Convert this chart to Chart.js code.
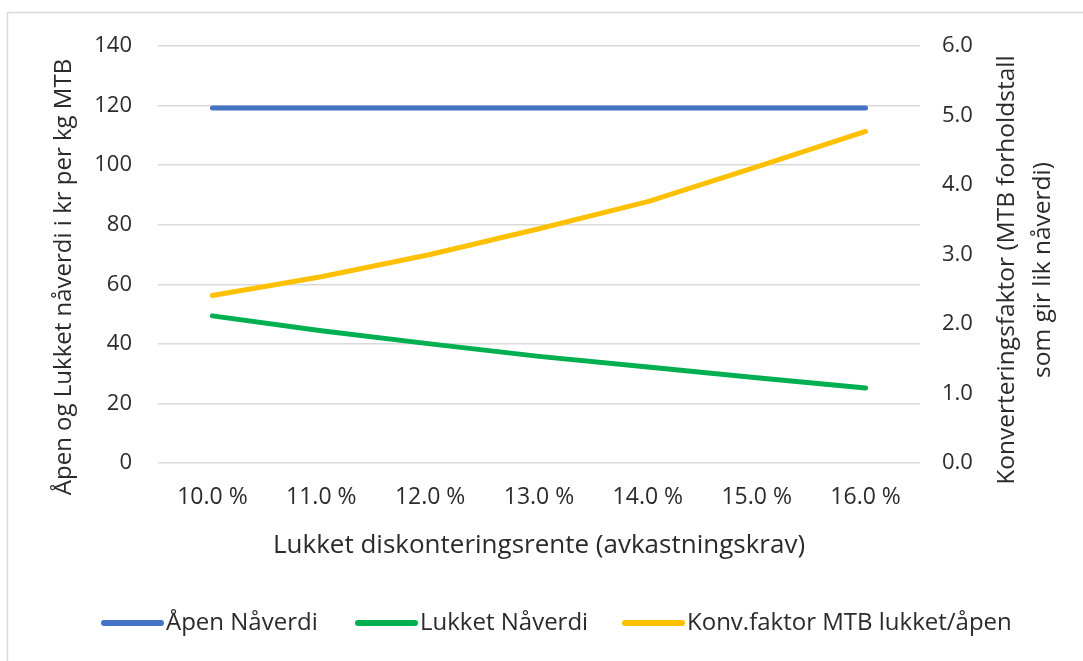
<!DOCTYPE html>
<html lang="no">
<head>
<meta charset="utf-8">
<title>Nåverdi og konverteringsfaktor</title>
<script src="https://cdn.jsdelivr.net/npm/chart.js@4/dist/chart.umd.min.js"></script>
<style>
  html, body { margin: 0; padding: 0; background: #ffffff; }
  #wrap { position: relative; width: 1083px; height: 661px; }
</style>
</head>
<body>
<div id="wrap"><canvas id="navChart" width="1083" height="661"></canvas></div>
<script>
// Diskonteringsrente (x-akse)
const renter = ["10.0 %", "11.0 %", "12.0 %", "13.0 %", "14.0 %", "15.0 %", "16.0 %"];
// Nåverdi i kr per kg MTB
const apenNaverdi = [119.2, 119.2, 119.2, 119.2, 119.2, 119.2, 119.2];
const lukketNaverdi = [49.4, 44.4, 40.0, 35.8, 32.2, 28.6, 25.2];
// Konverteringsfaktor (høyre akse)
const konvFaktor = [2.41, 2.68, 3.00, 3.37, 3.76, 4.26, 4.77];

const serieNavn = ["Åpen Nåverdi", "Lukket Nåverdi", "Konv.faktor MTB lukket/åpen"];
const venstreTittel = "Åpen og Lukket nåverdi i kr per kg MTB";
const hoyreTittel = ["Konverteringsfaktor (MTB forholdstall", "som gir lik nåverdi)"];
const xTittel = "Lukket diskonteringsrente (avkastningskrav)";

const FONT = "'Open Sans', Lato, sans-serif";
const TEKST = "#2b2b2b";
const farger = ["#4472C4", "#00B050", "#FFC000"];

// Aksetitler, legende og ramme tegnes her
const ekstraTegning = {
    id: "ekstraTegning",
    afterDraw(chart) {
        const ctx = chart.ctx;
        ctx.save();

        // tynn ramme rundt diagrammet
        ctx.strokeStyle = "#d9d9d9";
        ctx.lineWidth = 1.5;
        ctx.strokeRect(7.5, 12.5, 1100, 700);

        ctx.fillStyle = TEKST;
        ctx.textAlign = "center";
        ctx.textBaseline = "middle";

        // venstre aksetittel
        ctx.font = "24px " + FONT;
        ctx.save();
        ctx.translate(64, 277);
        ctx.rotate(-Math.PI / 2);
        ctx.fillText(venstreTittel, 0, 0);
        ctx.restore();

        // høyre aksetittel, to linjer
        ctx.font = "24.5px " + FONT;
        ctx.save();
        ctx.translate(1007, 270);
        ctx.rotate(-Math.PI / 2);
        ctx.fillText(hoyreTittel[0], 0, 0);
        ctx.fillText(hoyreTittel[1], 0, 36);
        ctx.restore();

        // legende under diagrammet
        const legX = [101, 355, 622];
        const legY = 623;
        ctx.textAlign = "left";
        ctx.font = "24px " + FONT;
        ctx.lineCap = "round";
        ctx.lineWidth = 6;
        serieNavn.forEach((navn, i) => {
            ctx.strokeStyle = farger[i];
            ctx.beginPath();
            ctx.moveTo(legX[i] + 3, legY);
            ctx.lineTo(legX[i] + 60, legY);
            ctx.stroke();
            ctx.fillText(navn, legX[i] + 65, legY);
        });

        ctx.restore();
    }
};

const ctx = document.getElementById("navChart").getContext("2d");

new Chart(ctx, {
    type: "line",
    data: {
        labels: renter,
        datasets: [
            {
                label: serieNavn[0],
                data: apenNaverdi,
                borderColor: farger[0],
                yAxisID: "y"
            },
            {
                label: serieNavn[1],
                data: lukketNaverdi,
                borderColor: farger[1],
                yAxisID: "y"
            },
            {
                label: serieNavn[2],
                data: konvFaktor,
                borderColor: farger[2],
                yAxisID: "y2"
            }
        ]
    },
    options: {
        responsive: false,
        animation: false,
        layout: {
            padding: { left: 7, top: 46, right: 0, bottom: 87 }
        },
        elements: {
            line: { borderWidth: 5, tension: 0, borderCapStyle: "round", borderJoinStyle: "round" },
            point: { radius: 0 }
        },
        plugins: {
            legend: { display: false },
            tooltip: { enabled: false }
        },
        scales: {
            x: {
                offset: true,
                grid: { display: false, drawTicks: false },
                border: { display: false },
                ticks: {
                    color: TEKST,
                    font: { family: FONT, size: 23 },
                    padding: 21,
                    maxRotation: 0
                },
                title: {
                    display: true,
                    text: xTittel,
                    color: TEKST,
                    font: { family: FONT, size: 26 },
                    padding: { bottom: 13 }
                },
                afterFit(scale) { scale.height = 111; }
            },
            y: {
                position: "left",
                min: 0,
                max: 140,
                ticks: {
                    stepSize: 20,
                    color: TEKST,
                    font: { family: FONT, size: 22 },
                    padding: 26
                },
                grid: { color: "#d9d9d9", lineWidth: 1.5, drawTicks: false },
                border: { display: false },
                afterFit(scale) { scale.width = 151; }
            },
            y2: {
                position: "right",
                min: 0,
                max: 6,
                ticks: {
                    stepSize: 1,
                    color: TEKST,
                    font: { family: FONT, size: 22 },
                    padding: 22,
                    callback: v => v.toFixed(1)
                },
                grid: { display: false, drawTicks: false },
                border: { display: false },
                afterFit(scale) { scale.width = 163; }
            }
        }
    },
    plugins: [ekstraTegning]
});
</script>
</body>
</html>
